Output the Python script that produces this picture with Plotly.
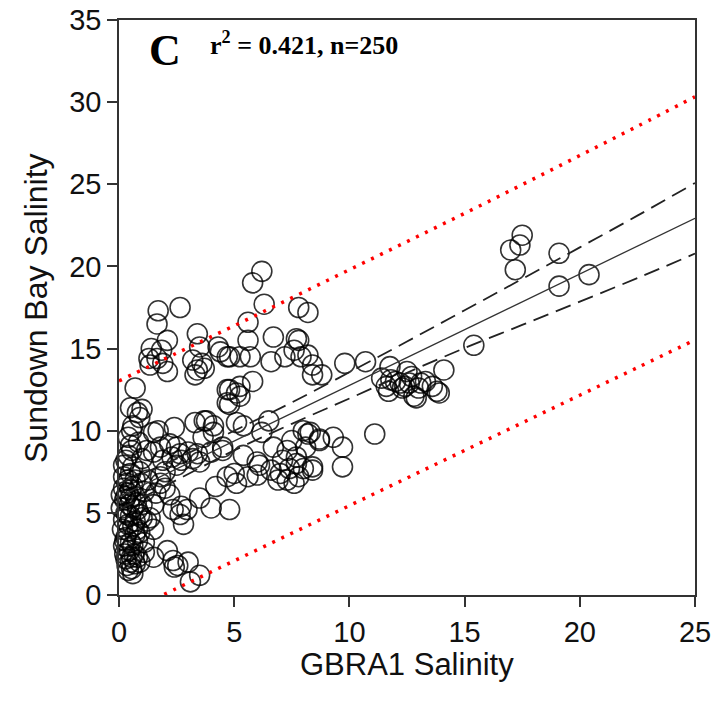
import plotly.graph_objects as go

# ---------------- data ----------------
gbra1 = [
    17.0, 17.5, 17.4, 17.2, 19.1, 19.1, 20.4, 15.4, 14.1,
    11.4, 11.76, 12.5, 12.2, 13.8, 12.8, 11.6, 11.7, 12.0, 12.4, 12.6, 12.7, 12.9, 13.1, 13.3, 13.6, 13.9, 12.3, 11.8, 13.0,
    11.1, 10.7, 9.8,
    7.8, 8.2, 7.8, 7.6, 8.2, 8.4, 8.4, 8.8, 7.7, 7.2, 7.9,
    6.2, 5.8, 6.3, 5.6, 5.6, 6.7, 4.8, 5.25, 5.7, 6.6, 5.8, 5.25, 4.7, 5.25, 4.8,
    1.7, 1.65, 2.65, 2.1, 1.4, 1.85, 1.3, 1.65, 1.35, 1.9, 2.1, 3.4, 3.5, 3.2, 3.6, 3.4, 3.7, 3.3, 4.3, 4.4, 4.7,
    0.7, 0.5, 1.0, 0.9, 0.8, 0.6, 1.7, 2.4, 3.3, 3.7, 4.1, 5.1, 5.4, 6.5, 6.2, 4.5, 5.4, 6.0, 6.7, 7.3, 7.5, 8.0,
    8.2, 8.7, 9.3, 9.7, 9.7, 7.1, 7.7, 8.0, 8.4, 6.1, 6.0, 6.6, 7.0, 7.3, 7.6, 6.9, 4.7, 5.1, 5.6, 8.3, 8.7, 8.1,
    7.7, 8.4, 7.8, 7.4,
    0.55, 0.4, 0.5, 0.55, 0.4, 1.5, 1.8, 1.5, 2.2, 2.5, 2.65, 2.3, 2.7, 1.9, 2.5, 3.8, 3.65, 4.1, 3.4, 3.5, 4.5,
    5.0, 4.8, 4.7, 5.1, 0.2, 0.4, 1.8, 1.25, 3.0, 3.2, 4.0,
    2.2, 2.35, 2.7, 2.95, 2.65, 2.8, 3.5, 4.0, 4.2, 4.8, 1.5, 1.35, 1.5, 2.1, 2.35, 2.4, 2.55, 3.0, 3.1, 3.5,
    1.6, 1.8, 2.0, 2.0, 1.0, 1.2, 1.5, 1.1,
    0.2, 0.3, 0.4, 0.5, 0.6, 0.1, 0.25, 0.5, 0.7, 0.35,
    0.3, 0.5, 0.7, 0.9, 0.4, 0.6, 0.8, 0.2, 1.0, 1.1,
    0.3, 0.5, 0.7, 0.4, 0.6, 0.8, 0.2, 0.9, 0.45, 0.65,
    0.3, 0.5, 0.7, 0.4, 0.6, 0.35, 0.8, 0.55, 0.25, 0.9,
    0.2, 0.5, 0.7, 0.3, 0.6, 0.9, 0.1, 0.15, 0.45, 0.75,
    1.0, 1.2, 0.85, 1.1, 0.95, 0.55, 0.35, 0.6, 0.8, 0.25,
]
sundown = [
    21.0, 21.9, 21.3, 19.8, 20.8, 18.8, 19.5, 15.2, 13.7,
    13.2, 13.9, 13.6, 12.9, 12.4, 12.1, 12.7, 12.4, 13.0, 12.7, 12.9, 13.3, 12.0, 12.9, 13.0, 12.7, 12.3, 12.6, 13.1, 12.6,
    9.8, 14.2, 14.1,
    17.5, 17.2, 15.5, 14.9, 14.6, 14.0, 13.4, 13.4, 15.6, 14.5, 14.5,
    19.7, 19.0, 17.7, 16.6, 15.5, 15.7, 14.5, 14.5, 14.5, 14.2, 13.0, 12.7, 12.5, 12.1, 11.6,
    17.3, 16.5, 17.5, 15.5, 15.0, 14.9, 14.4, 14.4, 14.0, 14.1, 13.6, 15.9, 15.1, 14.3, 14.1, 13.7, 13.8, 13.4, 15.1, 14.8, 14.5,
    12.6, 11.4, 11.3, 10.8, 11.1, 10.3, 10.0, 10.2, 10.5, 10.6, 10.3, 10.5, 10.3, 10.6, 9.9, 9.0, 8.5, 8.1, 9.0, 8.8, 9.4, 10.0,
    9.8, 9.5, 9.6, 9.0, 7.8, 8.2, 8.0, 7.7, 7.6, 7.9, 7.3, 7.6, 7.4, 7.0, 6.8, 7.0, 7.2, 6.8, 7.2, 9.9, 9.4, 9.0,
    8.4, 7.8, 7.2, 7.7,
    10.0, 9.6, 9.1, 8.8, 8.5, 9.9, 9.0, 8.7, 9.2, 9.0, 8.6, 8.4, 8.2, 8.2, 7.9, 10.6, 9.6, 9.9, 8.6, 8.1, 8.8,
    7.4, 12.5, 11.7, 12.3, 7.9, 7.0, 7.2, 7.0, 8.7, 8.3, 8.7,
    6.1, 5.2, 5.4, 5.2, 4.9, 4.3, 5.9, 5.3, 6.6, 5.2, 4.0, 4.7, 2.3, 2.7, 2.1, 1.7, 1.8, 2.0, 0.8, 1.2,
    6.2, 6.8, 6.5, 7.5, 4.7, 4.5, 5.5, 2.6,
    6.5, 6.0, 6.2, 6.4, 6.6, 6.1, 5.8, 5.9, 6.0, 6.8,
    5.0, 4.8, 4.5, 4.9, 4.3, 4.2, 5.2, 4.6, 5.5, 6.3,
    3.5, 3.2, 3.7, 3.9, 3.0, 3.3, 3.0, 3.8, 2.7, 2.5,
    2.2, 2.0, 1.9, 1.5, 1.3, 1.8, 2.3, 1.6, 2.5, 2.0,
    7.2, 7.4, 7.0, 8.2, 7.8, 7.5, 5.3, 4.0, 5.5, 5.6,
    8.3, 8.8, 9.3, 3.2, 6.8, 2.3, 4.9, 5.3, 4.0, 3.3,
]

# regression line and bands
fit_x = [0, 25]
fit_y = [5.98, 22.93]

band_x = [0, 2.5, 5, 7.5, 10, 12.5, 15, 17.5, 20, 22.5, 25]
ci_upper = [6.77, 8.30, 10.00, 11.72, 13.56, 15.43, 17.33, 19.24, 21.16, 23.09, 25.08]
ci_lower = [5.19, 7.00, 8.80, 10.42, 11.96, 13.53, 15.03, 16.44, 17.86, 19.29, 20.78]
pi_upper = [13.03, 14.72, 16.39, 18.09, 19.80, 21.51, 23.23, 24.98, 26.75, 28.53, 30.33]
pi_lower = [-1.28, 0.40, 2.08, 3.76, 5.44, 7.12, 8.80, 10.48, 12.16, 13.84, 15.53]

x_ticks = [0, 5, 10, 15, 20, 25]
y_ticks = [0, 5, 10, 15, 20, 25, 30, 35]

# ---------------- figure ----------------
fig = go.Figure()

fig.add_trace(go.Scatter(
    x=gbra1, y=sundown, mode="markers",
    marker=dict(symbol="circle-open", size=20, color="rgba(0,0,0,0.8)",
                line=dict(width=1.6, color="rgba(0,0,0,0.8)")),
    cliponaxis=False, showlegend=False, hoverinfo="x+y"))

fig.add_trace(go.Scatter(x=fit_x, y=fit_y, mode="lines",
                         line=dict(color="#333333", width=1.3), showlegend=False))
for yy in (ci_upper, ci_lower):
    fig.add_trace(go.Scatter(x=band_x, y=yy, mode="lines", line_shape="spline",
                             line=dict(color="#222222", width=1.8, dash="16px,8px"),
                             showlegend=False))
for yy in (pi_upper, pi_lower):
    fig.add_trace(go.Scatter(x=band_x, y=yy, mode="lines", line_shape="spline",
                             line=dict(color="#ff0000", width=3.5, dash="3px,7px"),
                             showlegend=False))

axis_common = dict(
    showgrid=False, zeroline=False, showline=True, linecolor="#333333", linewidth=1.5,
    mirror=True, ticks="outside", ticklen=10, tickwidth=1.5, tickcolor="#333333",
    automargin=False,
    tickfont=dict(family="Liberation Sans, Arial", size=29, color="#111111"),
)
fig.update_xaxes(range=[0, 25], tickvals=x_ticks, **axis_common)
fig.update_yaxes(range=[0, 35], tickvals=y_ticks, **axis_common)

fig.update_layout(
    width=712, height=707,
    margin=dict(l=119, r=17, t=20, b=112),
    plot_bgcolor="white", paper_bgcolor="white",
    annotations=[
        dict(text="GBRA1 Salinity", xref="paper", yref="paper", x=0.5, y=-0.12,
             xanchor="center", yanchor="middle", showarrow=False,
             font=dict(family="Liberation Sans, Arial", size=31, color="#111111")),
        dict(text="Sundown Bay Salinity", xref="paper", yref="paper", x=-0.145, y=0.5,
             xanchor="center", yanchor="middle", textangle=-90, showarrow=False,
             font=dict(family="Liberation Sans, Arial", size=32, color="#111111")),
        dict(text="<b>C</b>", xref="paper", yref="paper", x=0.08, y=0.947,
             xanchor="center", yanchor="middle", showarrow=False,
             font=dict(family="Liberation Serif, Times New Roman", size=44, color="black")),
        dict(text="<b>r<sup>2</sup> = 0.421, n=250</b>", xref="paper", yref="paper", x=0.155, y=0.96,
             xanchor="left", yanchor="middle", showarrow=False,
             font=dict(family="Liberation Serif, Times New Roman", size=26, color="black")),
    ],
)

fig.write_html("out.html")
